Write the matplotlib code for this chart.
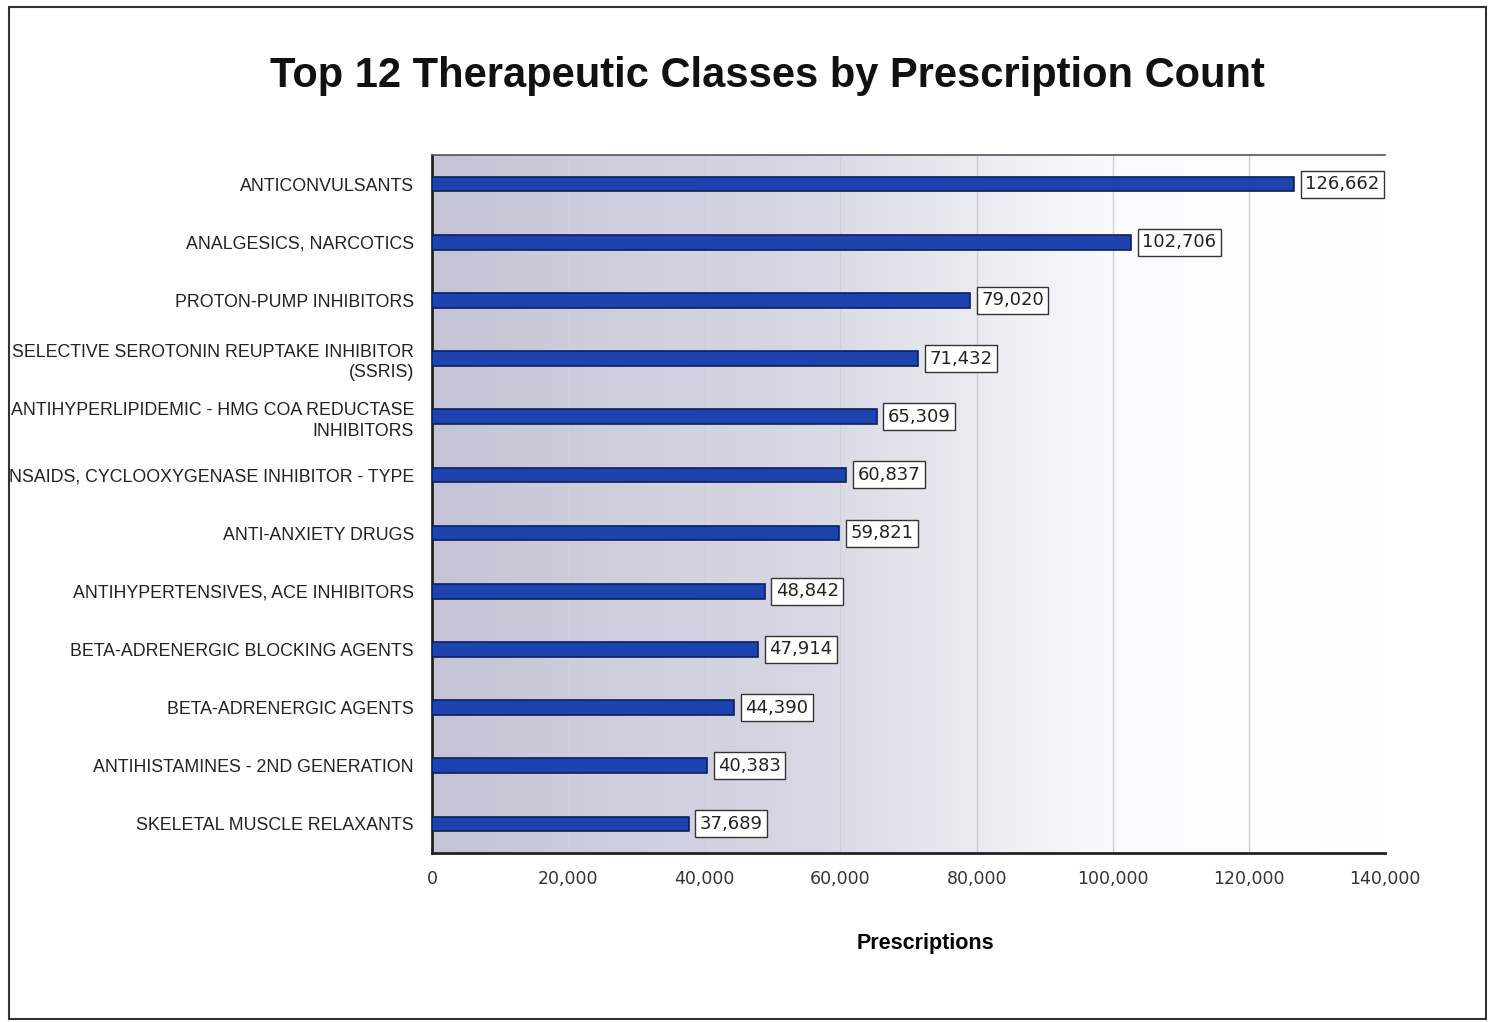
import matplotlib
matplotlib.use("Agg")
import matplotlib.pyplot as plt
import numpy as np
from matplotlib.colors import LinearSegmentedColormap
from matplotlib.patches import Rectangle

categories = [
    "ANTICONVULSANTS",
    "ANALGESICS, NARCOTICS",
    "PROTON-PUMP INHIBITORS",
    "SELECTIVE SEROTONIN REUPTAKE INHIBITOR\n(SSRIS)",
    "ANTIHYPERLIPIDEMIC - HMG COA REDUCTASE\nINHIBITORS",
    "NSAIDS, CYCLOOXYGENASE INHIBITOR - TYPE",
    "ANTI-ANXIETY DRUGS",
    "ANTIHYPERTENSIVES, ACE INHIBITORS",
    "BETA-ADRENERGIC BLOCKING AGENTS",
    "BETA-ADRENERGIC AGENTS",
    "ANTIHISTAMINES - 2ND GENERATION",
    "SKELETAL MUSCLE RELAXANTS",
]
values = [126662, 102706, 79020, 71432, 65309, 60837, 59821, 48842, 47914, 44390, 40383, 37689]
xticks = [0, 20000, 40000, 60000, 80000, 100000, 120000, 140000]

fig = plt.figure(figsize=(14.93, 10.22), dpi=100)
fig.patch.set_facecolor("white")
# outer frame
fig.add_artist(Rectangle((0.006, 0.003), 0.989, 0.99, transform=fig.transFigure,
                         fill=False, edgecolor="#333333", linewidth=1.5))

ax = fig.add_axes([0.2894, 0.1654, 0.6383, 0.6829])
y = np.arange(len(categories))

# background gradient
cmap = LinearSegmentedColormap.from_list("bg", [(0, "#c4c4d6"), (0.4, "#d8d8e4"), (0.72, "#fbfbfd"), (1, "#ffffff")])
grad = np.linspace(0, 1, 256).reshape(1, -1)
ax.imshow(grad, extent=[0, 140000, -0.5, 11.5], aspect="auto", cmap=cmap, zorder=0)

ax.set_xlim(0, 140000)
ax.set_ylim(11.5, -0.5)
for t in xticks[1:-1]:
    ax.axvline(t, color="#cfcfd6", linewidth=1, zorder=1)

ax.barh(y, values, height=0.25, color="#1c43ae", edgecolor="#0c1f5c", linewidth=1.2, zorder=3)

for yi, v in zip(y, values):
    ax.annotate(f"{v:,}", xy=(v, yi), xytext=(8, 0), textcoords="offset points",
                ha="left", va="center", fontsize=13, family="DejaVu Sans", color="#222222",
                bbox=dict(boxstyle="square,pad=0.25", facecolor="white", edgecolor="#333333", linewidth=1),
                zorder=4)

ax.set_yticks(y)
ax.set_yticklabels(categories, fontsize=12.8, family="Liberation Sans", color="#222222", ha="right",
                   multialignment="right", linespacing=1.3)
ax.tick_params(axis="y", length=0, pad=13)
ax.set_xticks(xticks)
ax.set_xticklabels([f"{t:,}" for t in xticks], fontsize=12.5, family="DejaVu Sans", color="#333333")
ax.tick_params(axis="x", length=0, pad=12)

ax.spines["right"].set_visible(False)
ax.spines["left"].set_linewidth(2)
ax.spines["bottom"].set_linewidth(2)
ax.spines["left"].set_color("#222222")
ax.spines["bottom"].set_color("#222222")
ax.spines["top"].set_linewidth(1.2)
ax.spines["top"].set_color("#555555")

ax.set_xlabel("Prescriptions", fontsize=15.5, fontweight="bold", family="Liberation Sans")
ax.xaxis.set_label_coords(0.518, -0.115)

fig.text(0.514, 0.926, "Top 12 Therapeutic Classes by Prescription Count", ha="center", va="center",
         fontsize=30, fontweight="bold", family="Liberation Sans", color="#111111")

fig.savefig("out.png", dpi=100)
